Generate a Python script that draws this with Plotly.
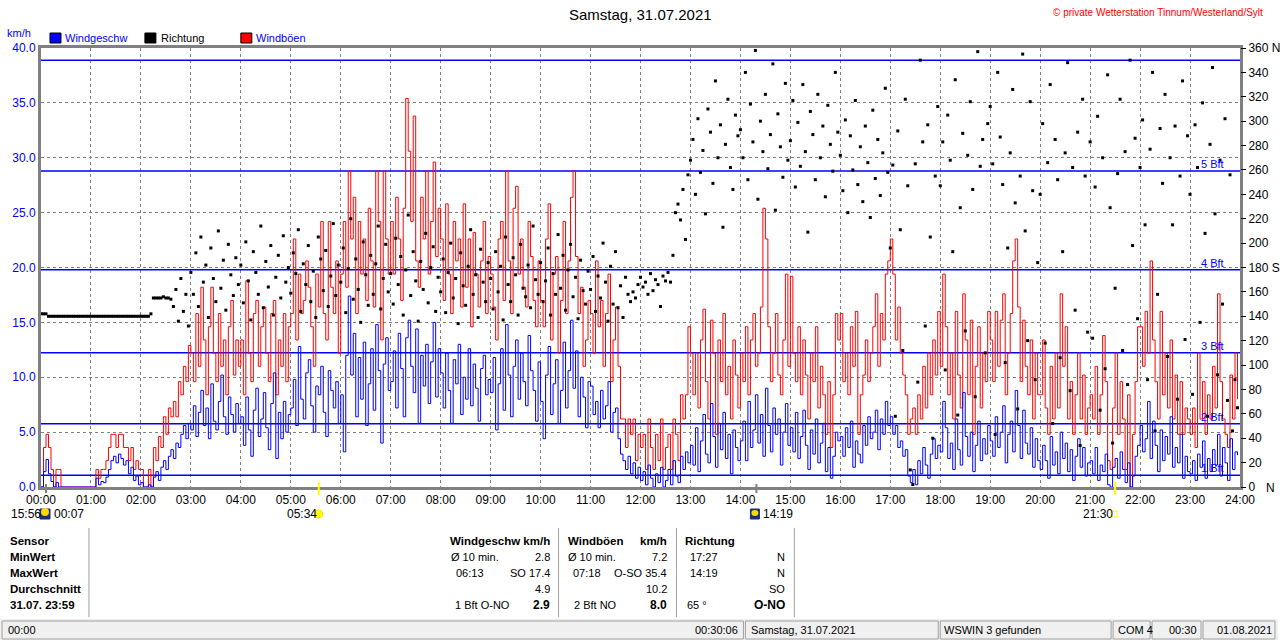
import plotly.graph_objects as go

# Zeitachse: alle 3 Minuten ein Wert
minutes = list(range(0, 1440, 3))
hours = [m / 60 for m in minutes]

# Windgeschwindigkeit km/h (eine Zeile pro Stunde)
wind = [
    0, 1.4, 2.5, 1.2, 0.5, 0, 0.4, 0, 0, 0, 0, 0, 0, 0, 0, 0, 0, 0, 0, 0,
    0, 0, 0.8, 0.2, 0.5, 0.4, 0.9, 1.6, 2.4, 2.8, 2.2, 3.0, 2.6, 2.0, 2.4, 1.2, 1.8, 0.6, 1.0, 0.2,
    0.4, 0, 0, 0.2, 0, 0.9, 1.4, 0.6, 1.8, 2.4, 1.6, 2.8, 3.4, 2.6, 4.0, 3.6, 4.8, 5.6, 4.4, 5.8,
    5.2, 7.4, 4.6, 6.8, 8.8, 5.6, 7.2, 4.4, 9.4, 6.0, 5.2, 7.8, 10.2, 6.4, 4.8, 8.2, 6.6, 5.0, 7.6, 5.8,
    6.4, 3.8, 8.2, 5.2, 2.8, 7.0, 9.0, 4.6, 6.2, 8.6, 5.4, 3.4, 7.6, 10.4, 2.6, 6.8, 4.4, 7.8, 5.0, 6.6,
    7.2, 9.8, 5.6, 12.8, 8.0, 6.2, 10.4, 11.6, 7.4, 5.0, 9.2, 8.4, 11.0, 6.8, 4.6, 10.6, 8.8, 7.2, 9.6, 5.8,
    8.4, 3.2, 12.0, 17.4, 10.2, 14.0, 6.4, 11.8, 8.0, 13.2, 5.6, 9.4, 12.6, 7.0, 14.8, 10.6, 4.0, 11.2, 13.6, 8.8,
    9.6, 12.4, 7.2, 14.0, 10.8, 6.4, 13.6, 15.2, 11.0, 8.6, 14.4, 5.8, 12.0, 9.2, 13.0, 7.6, 11.4, 15.0, 8.2, 12.6,
    10.4, 7.2, 12.2, 8.8, 5.8, 11.6, 9.4, 13.0, 6.6, 10.0, 8.0, 12.6, 7.4, 11.2, 9.0, 6.0, 10.8, 12.0, 8.4, 9.8,
    8.6, 11.8, 5.2, 9.4, 12.6, 7.0, 14.8, 10.2, 6.4, 11.0, 13.4, 8.0, 12.2, 9.6, 7.4, 13.8, 10.6, 8.8, 6.0, 11.4,
    7.8, 4.4, 10.2, 12.8, 6.6, 9.4, 11.6, 5.8, 8.8, 13.2, 7.2, 10.6, 15.2, 9.0, 12.4, 6.4, 10.0, 8.2, 5.4, 9.6,
    9.2, 6.6, 7.8, 5.4, 8.8, 6.2, 7.4, 9.6, 5.0, 6.8, 7.2, 4.4, 3.0, 2.4, 1.6, 2.8, 1.2, 2.2, 0.8, 1.8,
    0.6, 1.4, 0.2, 2.0, 0.8, 0, 1.2, 0.4, 1.8, 0, 0.6, 1.6, 0.2, 2.4, 1.0, 0.4, 2.8, 1.6, 3.2, 2.2,
    3.8, 2.0, 5.4, 1.4, 4.2, 6.6, 3.0, 2.2, 7.6, 4.6, 1.8, 5.8, 3.4, 6.8, 2.6, 4.8, 1.2, 5.2, 3.6, 2.4,
    4.2, 6.0, 2.4, 7.8, 3.6, 5.2, 8.4, 4.0, 6.6, 2.8, 9.0, 5.6, 3.2, 7.2, 4.8, 6.2, 2.0, 5.0, 7.6, 3.8,
    5.4, 3.2, 6.8, 2.6, 4.6, 7.0, 3.8, 1.6, 5.2, 3.0, 6.2, 2.2, 4.0, 5.8, 1.4, 3.6, 0.8, 2.8, 5.0, 4.2,
    4.6, 2.8, 5.4, 3.6, 6.0, 1.8, 4.2, 3.0, 2.2, 5.6, 3.8, 6.4, 4.4, 5.0, 7.0, 3.4, 6.2, 4.8, 7.8, 5.6,
    6.4, 4.8, 5.6, 3.6, 4.2, 2.8, 3.4, 1.0, 0.4, 1.6, 0.2, 2.4, 1.2, 3.6, 2.0, 0.8, 3.0, 4.4, 2.6, 3.8,
    3.2, 7.8, 5.4, 2.6, 4.0, 1.6, 6.2, 3.4, 2.0, 8.6, 4.6, 2.8, 5.0, 1.4, 3.8, 6.0, 2.4, 4.4, 3.0, 5.6,
    4.2, 2.8, 6.4, 3.6, 5.0, 7.4, 2.2, 4.8, 6.0, 3.2, 8.8, 5.6, 2.6, 7.0, 4.0, 3.0, 5.4, 1.8, 4.4, 2.4,
    1.6, 3.8, 2.4, 0.8, 4.6, 2.0, 3.2, 1.2, 5.0, 2.6, 4.0, 1.4, 3.4, 0.6, 2.8, 4.4, 1.8, 3.6, 1.0, 2.2,
    2.4, 1.2, 3.6, 0.6, 2.0, 1.4, 3.0, 0.2, 0, 1.8, 2.6, 0.8, 3.2, 1.6, 0.4, 2.2, 0, 1.0, 2.8, 3.8,
    5.6, 3.2, 4.4, 7.8, 2.6, 6.0, 3.8, 1.4, 5.2, 2.4, 4.6, 3.0, 6.4, 1.8, 3.6, 2.2, 4.8, 0.8, 2.8, 1.4,
    1.2, 2.4, 0.6, 3.0, 1.8, 4.2, 0.8, 2.6, 1.4, 3.4, 2.0, 4.8, 1.0, 3.6, 2.2, 0.6, 4.4, 1.6, 3.2, 2.9,
]

# Windböen km/h
gust = [
    0, 3.6, 4.8, 3.6, 1.6, 0, 1.6, 1.6, 0, 0, 0, 0, 0, 0, 0, 0, 0, 0, 0, 0,
    0, 0, 1.6, 0.8, 1.6, 1.6, 2.4, 3.6, 4.8, 4.8, 3.6, 4.8, 4.8, 3.6, 3.6, 2.4, 3.6, 1.6, 2.4, 1.6,
    1.6, 0, 0, 1.6, 0, 3.6, 2.4, 4.6, 3.6, 6.4, 4.8, 7.2, 6.4, 7.8, 6.4, 9.6, 8.4, 11.0, 9.6, 12.9,
    12.2, 9.6, 15.8, 11.0, 18.2, 13.4, 8.4, 14.6, 18.2, 12.2, 9.6, 15.8, 11.0, 13.4, 8.4, 14.6, 17.0, 10.2, 13.4, 11.0,
    13.4, 8.4, 18.8, 12.2, 9.6, 15.8, 17.0, 11.0, 14.6, 16.4, 12.2, 9.6, 15.8, 17.0, 8.4, 13.4, 11.0, 15.8, 9.6, 14.6,
    15.8, 22.6, 13.4, 19.4, 15.8, 17.0, 20.6, 18.2, 14.6, 11.0, 19.4, 16.4, 24.2, 15.8, 13.4, 24.2, 18.2, 15.8, 20.6, 12.2,
    19.4, 24.2, 18.2, 28.8, 22.6, 26.4, 15.8, 24.2, 19.4, 22.6, 17.0, 25.4, 20.6, 16.4, 28.8, 24.2, 13.4, 28.8, 22.6, 19.4,
    24.2, 19.4, 26.4, 22.6, 17.0, 25.4, 35.4, 30.6, 24.2, 33.8, 20.6, 18.2, 26.4, 22.6, 28.8, 19.4, 24.2, 29.6, 21.0, 25.4,
    22.6, 17.0, 25.8, 19.4, 15.8, 24.2, 20.6, 22.6, 16.4, 25.8, 18.2, 22.6, 14.6, 23.2, 19.4, 16.4, 20.6, 24.2, 15.8, 21.0,
    19.4, 16.4, 13.4, 22.6, 24.2, 17.0, 28.8, 20.6, 15.8, 25.4, 27.4, 19.4, 22.6, 18.2, 16.4, 24.2, 21.0, 17.0, 14.6, 20.6,
    17.0, 14.6, 22.6, 25.8, 13.4, 19.4, 21.0, 12.2, 17.0, 24.2, 15.8, 20.6, 26.4, 28.8, 21.0, 15.8, 18.2, 11.0, 13.4, 17.0,
    15.8, 12.2, 20.6, 14.6, 17.0, 11.0, 15.8, 19.4, 9.6, 13.4, 16.4, 11.0, 6.2, 6.2, 3.6, 6.2, 4.8, 6.2, 2.4, 4.8,
    3.6, 4.8, 1.6, 6.2, 3.6, 1.6, 4.8, 2.4, 6.2, 1.6, 3.6, 4.8, 1.6, 6.2, 4.8, 2.4, 8.4, 6.2, 8.4, 14.6,
    12.2, 8.4, 12.2, 7.2, 13.4, 16.2, 9.6, 6.2, 15.2, 12.2, 4.8, 13.4, 9.6, 15.8, 8.4, 11.0, 6.2, 13.4, 10.2, 7.2,
    12.2, 9.6, 14.6, 8.4, 13.4, 15.8, 11.0, 12.2, 16.4, 25.4, 22.6, 14.6, 9.6, 12.2, 15.8, 10.2, 8.4, 13.4, 19.4, 11.0,
    19.2, 12.2, 9.6, 14.6, 8.4, 13.4, 10.2, 6.2, 12.2, 9.6, 14.6, 7.2, 11.0, 8.4, 4.8, 9.6, 3.6, 8.4, 15.8, 13.4,
    15.8, 9.6, 12.2, 8.4, 14.6, 11.0, 16.0, 4.8, 8.4, 10.2, 13.4, 9.6, 12.2, 14.6, 17.6, 11.0, 15.8, 13.4, 19.4, 20.6,
    22.6, 19.4, 13.4, 16.4, 12.2, 10.2, 8.4, 4.8, 6.2, 7.2, 4.8, 8.4, 6.2, 11.0, 7.2, 12.2, 8.4, 13.4, 10.2, 16.0,
    11.0, 19.4, 14.6, 8.4, 12.2, 6.2, 16.0, 10.2, 7.2, 17.6, 13.4, 8.4, 15.2, 4.8, 11.0, 14.6, 7.2, 12.2, 9.6, 16.0,
    13.4, 9.6, 16.0, 11.0, 15.2, 17.6, 8.4, 12.2, 15.8, 20.6, 22.6, 16.4, 9.6, 15.2, 11.0, 8.4, 13.4, 6.2, 12.2, 8.4,
    8.4, 13.4, 7.2, 4.8, 11.0, 6.2, 12.2, 7.2, 17.6, 11.0, 14.6, 6.2, 9.6, 4.8, 8.4, 12.2, 6.2, 10.2, 4.8, 7.2,
    8.4, 6.2, 11.0, 4.8, 8.4, 13.8, 9.6, 2.4, 1.6, 7.2, 12.2, 4.8, 9.6, 6.2, 1.6, 8.4, 0, 4.8, 9.6, 14.6,
    14.6, 11.0, 16.0, 12.2, 20.6, 13.4, 9.6, 6.2, 16.0, 8.4, 12.2, 7.2, 13.4, 6.2, 10.2, 4.8, 9.6, 4.8, 7.2, 6.2,
    4.8, 7.2, 3.6, 12.2, 6.2, 9.6, 4.8, 8.4, 6.2, 11.0, 7.2, 17.6, 9.6, 6.2, 4.8, 3.6, 10.2, 6.2, 12.2, 8.0,
]

# Windrichtung Grad
direction = [
    142, 142, 142, 140, 140, 140, 140, 140, 140, 140, 140, 140, 140, 140, 140, 140, 140, 140, 140, 140,
    140, 140, 140, 140, 140, 140, 140, 140, 140, 140, 140, 140, 140, 140, 140, 140, 140, 140, 140, 140,
    140, 140, 140, 140, 142, 155, 155, 155, 155, 156, 155, 155, 154, 148, 162, 136, 171, 144, 158, 132,
    176, 158, 192, 148, 205, 168, 182, 139, 196, 171, 152, 210, 163, 186, 145, 199, 174, 157, 188, 166,
    182, 151, 201, 169, 137, 193, 176, 158, 214, 147, 185, 164, 198, 141, 172, 190, 155, 206, 168, 180,
    159, 192, 175, 211, 144, 183, 166, 198, 152, 177, 139, 205, 187, 161, 194, 148, 173, 216, 157, 182,
    168, 196, 143, 179, 220, 154, 187, 162, 135, 201, 174, 149, 190, 158, 183, 214, 146, 171, 199, 160,
    175, 150, 204, 166, 189, 141, 178, 223, 157, 193, 169, 136, 185, 162, 208, 151, 180, 197, 144, 172,
    160, 187, 143, 176, 200, 155, 171, 134, 192, 165, 149, 181, 211, 158, 174, 139, 195, 168, 152, 184,
    171, 146, 193, 160, 181, 137, 205, 166, 152, 188, 174, 141, 199, 163, 156, 182, 147, 214, 170, 158,
    184, 152, 169, 196, 141, 175, 158, 207, 163, 190, 145, 178, 199, 156, 172, 138, 186, 161, 150, 177,
    162, 189, 144, 173, 155, 200, 168, 136, 181, 150, 193, 147, 165, 139, 172, 158, 152, 160, 155, 166,
    172, 164, 168, 158, 175, 161, 170, 166, 148, 173, 169, 176, 168, 190, 225, 232, 219, 244, 203, 256,
    268, 285, 240, 302, 258, 276, 224, 310, 291, 249, 333, 270, 297, 213, 281, 318, 262, 244, 305, 288,
    293, 270, 340, 252, 314, 283, 358, 236, 300, 275, 322, 261, 289, 347, 227, 306, 279, 254, 331, 268,
    284, 317, 246, 299, 263, 330, 275, 209, 308, 289, 252, 322, 270, 296, 238, 313, 281, 259, 340, 291,
    272, 243, 301, 225, 288, 260, 317, 248, 279, 234, 296, 266, 221, 309, 253, 285, 239, 274, 327, 258,
    196, 264, 58, 292, 211, 112, 318, 247, 14, 2, 265, 86, 350, 283, 132, 297, 205, 40, 255, 312,
    247, 283, 96, 305, 268, 193, 334, 59, 229, 290, 128, 272, 316, 244, 74, 357, 263, 285, 110, 298,
    312, 265, 43, 340, 287, 248, 102, 196, 274, 326, 233, 64, 255, 355, 210, 120, 316, 243, 88, 184,
    240, 298, 118, 266, 330, 52, 285, 252, 106, 193, 274, 348, 79, 262, 145, 291, 34, 318, 255, 127,
    283, 122, 246, 304, 63, 270, 97, 338, 229, 36, 163, 257, 318, 112, 275, 84, 350, 198, 286, 138,
    262, 301, 215, 88, 277, 340, 46, 158, 294, 249, 322, 107, 270, 215, 296, 72, 255, 333, 121, 288,
    240, 76, 297, 262, 135, 315, 208, 58, 281, 344, 224, 92, 268, 150, 302, 71, 256, 46, 88, 65,
]

x_ticks = ["00:00", "01:00", "02:00", "03:00", "04:00", "05:00", "06:00", "07:00", "08:00",
           "09:00", "10:00", "11:00", "12:00", "13:00", "14:00", "15:00", "16:00", "17:00",
           "18:00", "19:00", "20:00", "21:00", "22:00", "23:00", "24:00"]
kmh_ticks = ["0.0", "5.0", "10.0", "15.0", "20.0", "25.0", "30.0", "35.0", "40.0"]
deg_ticks = ["0", "20", "40", "60", "80", "100", "120", "140", "160", "180 S",
             "200", "220", "240", "260", "280", "300", "320", "340", "360 N"]

bft_kmh = [1.08, 5.76, 12.24, 19.8, 28.8, 38.88]
bft_labels = ["1 Bft", "2 Bft", "3 Bft", "4 Bft", "5 Bft", ""]

BLUE = "#0000ff"
RED = "#ff0000"
GREY = "#808080"
FONT = "Liberation Sans, Arial, sans-serif"
NARROW = "Liberation Sans Narrow, Arial Narrow, Liberation Sans, sans-serif"

# Die Seite wird beim Foto waagrecht leicht gestaucht, daher etwas breiter anlegen
FIG_W = 1292
K = FIG_W / 1280


# Pixel -> Papierkoordinaten (Plotbereich x 41..1241, y 48..487)
def px(x):
    return (x - 41) / 1200


def py(y):
    return (487 - y) / 439


def txt(s, x, y, size=11, color="black", anchor="left", bold=False, family=FONT):
    return dict(text=f"<b>{s}</b>" if bold else s, x=px(x), y=py(y), xref="paper", yref="paper",
                xanchor=anchor, yanchor="middle", showarrow=False,
                font=dict(family=family, size=size, color=color))


def box(x0, y0, x1, y1, fill=None, line="#a0a0a0", width=1):
    return dict(type="rect", xref="paper", yref="paper", x0=px(x0), x1=px(x1), y0=py(y0), y1=py(y1),
                fillcolor=fill or "rgba(0,0,0,0)", line=dict(color=line, width=width), layer="above")


fig = go.Figure()

fig.add_trace(go.Scatter(x=hours, y=gust, mode="lines", line=dict(color=RED, width=1, shape="hv"),
                         name="Windböen", showlegend=False))
fig.add_trace(go.Scatter(x=hours, y=wind, mode="lines", line=dict(color=BLUE, width=1, shape="hv"),
                         name="Windgeschw", showlegend=False))
fig.add_trace(go.Scatter(x=hours, y=direction, mode="markers", yaxis="y2",
                         marker=dict(symbol="square", size=3, color="black", line=dict(width=0)),
                         name="Richtung", showlegend=False))

shapes = []
annotations = []

# Beaufort-Linien
for v, lab in zip(bft_kmh, bft_labels):
    shapes.append(dict(type="line", xref="x", yref="y", x0=0, x1=24, y0=v, y1=v,
                       line=dict(color=BLUE, width=1.5), layer="between"))
    if lab:
        annotations.append(dict(text=lab, x=23.72, y=v, xref="x", yref="y", xanchor="right",
                                yanchor="bottom", showarrow=False, yshift=-1,
                                font=dict(family=FONT, size=11, color=BLUE)))

# Kopfzeile / Legende
annotations += [
    txt("Samstag, 31.07.2021", 641, 15, size=15, anchor="center"),
    txt("© private Wetterstation Tinnum/Westerland/Sylt", 1266, 12, size=10, color=RED, anchor="right"),
    txt("km/h", 5, 33, size=11, color=BLUE),
    txt("Windgeschw", 63, 38, size=11, color=BLUE),
    txt("Richtung", 159, 38, size=11),
    txt("Windböen", 254, 38, size=11, color=BLUE),
    txt("N", 1265, 488, size=12, family=NARROW),
]
shapes += [
    box(50, 33, 61, 43, fill=BLUE, line="black"),
    box(145, 33, 156, 43, fill="black", line="black"),
    box(241, 33, 252, 43, fill=RED, line="black"),
]

# Sonnen- und Mondzeiten unter der Zeitachse
annotations += [
    txt("15:56", 9, 514, size=12, family=NARROW),
    txt("00:07", 52, 514, size=12, family=NARROW),
    txt("05:34", 285, 514, size=12, family=NARROW),
    txt("14:19", 762, 514, size=12, family=NARROW),
    txt("21:30", 1082, 514, size=12, family=NARROW),
]
shapes += [
    dict(type="line", xref="paper", yref="paper", x0=px(46), x1=px(46), y0=py(484), y1=py(493),
         line=dict(color=GREY, width=2)),
    dict(type="line", xref="paper", yref="paper", x0=px(319), x1=px(319), y0=py(482), y1=py(495),
         line=dict(color="#ffff00", width=2)),
    dict(type="line", xref="paper", yref="paper", x0=px(757), x1=px(757), y0=py(484), y1=py(493),
         line=dict(color=GREY, width=2)),
    dict(type="line", xref="paper", yref="paper", x0=px(1116), x1=px(1116), y0=py(482), y1=py(495),
         line=dict(color="#ffff00", width=2)),
    box(40, 509, 50, 519, fill="#1a2f7a", line="#1a2f7a"),
    dict(type="circle", xref="paper", yref="paper", x0=px(41), x1=px(49), y0=py(508), y1=py(516),
         fillcolor="#ffd800", line=dict(color="#ffd800", width=0)),
    dict(type="circle", xref="paper", yref="paper", x0=px(315), x1=px(323), y0=py(510), y1=py(518),
         fillcolor="#ffff00", line=dict(color="#ffe000", width=1)),
    box(751, 509, 760, 519, fill="#1a2f7a", line="#1a2f7a"),
    dict(type="circle", xref="paper", yref="paper", x0=px(752), x1=px(759), y0=py(510), y1=py(516),
         fillcolor="#ffd800", line=dict(color="#ffd800", width=0)),
    box(1112, 511, 1118, 517, line="#ffff00"),
]

# Tabelle
rows_y = [541, 557, 573, 589, 605]
for label, yy in zip(["Sensor", "MinWert", "MaxWert", "Durchschnitt", "31.07. 23:59"], rows_y):
    annotations.append(txt(label, 8, yy, size=11.5, bold=True))

annotations += [
    txt("Windgeschw km/h", 552, 541, size=11.5, bold=True, anchor="right"),
    txt("Ø 10 min.", 449, 557, size=11, family=NARROW),
    txt("2.8", 552, 557, size=11, family=NARROW, anchor="right"),
    txt("06:13", 454, 573, size=11, family=NARROW),
    txt("SO 17.4", 552, 573, size=11, family=NARROW, anchor="right"),
    txt("4.9", 552, 589, size=11, family=NARROW, anchor="right"),
    txt("1 Bft O-NO", 453, 605, size=11, family=NARROW),
    txt("2.9", 552, 605, size=12, bold=True, anchor="right"),
    txt("Windböen", 566, 541, size=11.5, bold=True),
    txt("km/h", 670, 541, size=11.5, bold=True, anchor="right"),
    txt("Ø 10 min.", 566, 557, size=11, family=NARROW),
    txt("7.2", 670, 557, size=11, family=NARROW, anchor="right"),
    txt("07:18", 571, 573, size=11, family=NARROW),
    txt("O-SO 35.4", 670, 573, size=11, family=NARROW, anchor="right"),
    txt("10.2", 670, 589, size=11, family=NARROW, anchor="right"),
    txt("2 Bft NO", 572, 605, size=11, family=NARROW),
    txt("8.0", 670, 605, size=12, bold=True, anchor="right"),
    txt("Richtung", 684, 541, size=11.5, bold=True),
    txt("17:27", 689, 557, size=11, family=NARROW),
    txt("N", 788, 557, size=11, family=NARROW, anchor="right"),
    txt("14:19", 689, 573, size=11, family=NARROW),
    txt("N", 788, 573, size=11, family=NARROW, anchor="right"),
    txt("SO", 788, 589, size=11, family=NARROW, anchor="right"),
    txt("65 °", 686, 605, size=11, family=NARROW),
    txt("O-NO", 788, 605, size=12, bold=True, anchor="right"),
]
for xs in [89, 559, 677, 795]:
    shapes.append(dict(type="line", xref="paper", yref="paper", x0=px(xs), x1=px(xs),
                       y0=py(528), y1=py(617), line=dict(color="#a0a0a0", width=1)))

# Statusleiste
shapes.append(dict(type="rect", xref="paper", yref="paper", x0=px(0), x1=px(1279), y0=py(619), y1=py(640),
                   fillcolor="#f0f0f0", line=dict(width=0), layer="below"))
for x0, x1 in [(2, 744), (746, 939), (941, 1112), (1114, 1151), (1153, 1202), (1204, 1276)]:
    shapes.append(box(x0, 621, x1, 639))
annotations += [
    txt("00:00", 6, 630, size=11, family=NARROW),
    txt("00:30:06", 741, 630, size=11, family=NARROW, anchor="right"),
    txt("Samstag, 31.07.2021", 750, 630, size=11, family=NARROW),
    txt("WSWIN 3 gefunden", 943, 630, size=11, family=NARROW),
    txt("COM 4", 1117, 630, size=11, family=NARROW),
    txt("00:30", 1168, 630, size=11, family=NARROW),
    txt("01.08.2021", 1216, 630, size=11, family=NARROW),
]

fig.update_layout(
    width=FIG_W,
    height=641,
    autosize=False,
    margin=dict(l=41 * K, r=39 * K, t=48, b=154, pad=0),
    paper_bgcolor="white",
    plot_bgcolor="white",
    showlegend=False,
    xaxis=dict(
        range=[0, 24],
        tickvals=list(range(25)),
        ticktext=x_ticks,
        showgrid=True,
        gridcolor=GREY,
        griddash="3px,3px",
        gridwidth=1,
        zeroline=False,
        showline=True,
        linecolor=GREY,
        linewidth=3,
        mirror=True,
        ticks="",
        tickfont=dict(family=NARROW, size=12, color="black"),
    ),
    yaxis=dict(
        range=[0, 40],
        tickvals=[0, 5, 10, 15, 20, 25, 30, 35, 40],
        ticktext=kmh_ticks,
        showgrid=True,
        gridcolor=GREY,
        griddash="3px,3px",
        gridwidth=1,
        zeroline=False,
        showline=True,
        linecolor=GREY,
        linewidth=3,
        mirror=True,
        ticks="",
        tickfont=dict(family=NARROW, size=12, color=BLUE),
    ),
    yaxis2=dict(
        range=[0, 360],
        overlaying="y",
        side="right",
        tickvals=list(range(0, 361, 20)),
        ticktext=deg_ticks,
        showgrid=False,
        zeroline=False,
        showline=False,
        ticks="outside",
        ticklen=5,
        tickcolor="black",
        tickfont=dict(family=NARROW, size=12, color="black"),
    ),
    shapes=shapes,
    annotations=annotations,
)

# Seitenrand des Browsers entfernen, damit die Grafik bei 0/0 beginnt
fig.write_html(
    "out.html",
    config={"displayModeBar": False, "responsive": False},
    post_script=(
        "document.documentElement.style.margin='0';document.documentElement.style.overflow='hidden';"
        "document.body.style.margin='0';document.body.style.padding='0';document.body.style.overflow='hidden';"
    ),
)
